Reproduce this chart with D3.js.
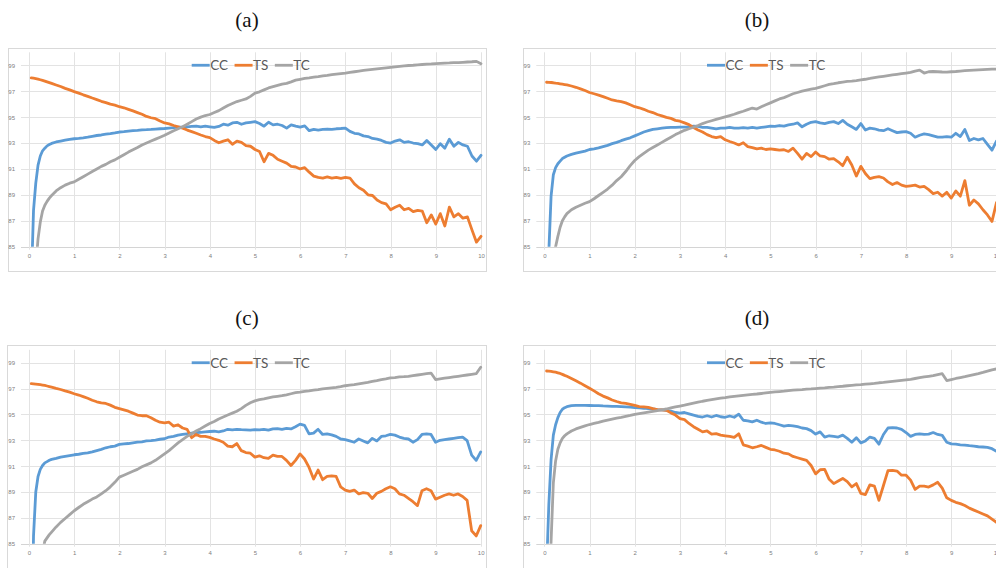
<!DOCTYPE html>
<html>
<head>
<meta charset="utf-8">
<script src="https://cdn.jsdelivr.net/npm/d3@7/dist/d3.min.js"></script>
<style>
  html, body { margin: 0; padding: 0; background: #ffffff; }
  svg { display: block; }
</style>
</head>
<body>
<svg id="chart" width="996" height="568"></svg>
<script>
// ---------------- DATA ----------------
const seriesNames = ["CC", "TS", "TC"];
const panelTitles = ["(a)", "(b)", "(c)", "(d)"];
const yTicks = [85, 87, 89, 91, 93, 95, 97, 99];
const xTicks = [0, 1, 2, 3, 4, 5, 6, 7, 8, 9, 10];

const xs = [
  0.05, 0.1, 0.15, 0.2, 0.25, 0.3, 0.35, 0.4, 0.45, 0.5,
  0.6, 0.7, 0.8, 0.9, 1.0, 1.1, 1.2, 1.3, 1.4, 1.5,
  1.6, 1.7, 1.8, 1.9, 2.0, 2.1, 2.2, 2.3, 2.4, 2.5,
  2.6, 2.7, 2.8, 2.9, 3.0, 3.1, 3.2, 3.3, 3.4, 3.5,
  3.6, 3.7, 3.8, 3.9, 4.0, 4.1, 4.2, 4.3, 4.4, 4.5,
  4.6, 4.7, 4.8, 4.9, 5.0, 5.1, 5.2, 5.3, 5.4, 5.5,
  5.6, 5.7, 5.8, 5.9, 6.0, 6.1, 6.2, 6.3, 6.4, 6.5,
  6.6, 6.7, 6.8, 6.9, 7.0, 7.1, 7.2, 7.3, 7.4, 7.5,
  7.6, 7.7, 7.8, 7.9, 8.0, 8.1, 8.2, 8.3, 8.4, 8.5,
  8.6, 8.7, 8.8, 8.9, 9.0, 9.1, 9.2, 9.3, 9.4, 9.5,
  9.6, 9.7, 9.8, 9.9, 10.0
];

// (a)
const aCC = [
  82.0, 87.8, 89.9, 91.3, 92.0, 92.4, 92.6, 92.78, 92.88, 92.97,
  93.08, 93.15, 93.22, 93.28, 93.33, 93.36, 93.4, 93.45, 93.52, 93.58,
  93.62, 93.68, 93.72, 93.78, 93.85, 93.88, 93.92, 93.95, 93.98, 94.02,
  94.03, 94.05, 94.08, 94.1, 94.12, 94.15, 94.18, 94.22, 94.22, 94.25,
  94.28, 94.3, 94.25, 94.3, 94.25, 94.2, 94.28, 94.45, 94.38, 94.55,
  94.6, 94.45, 94.55, 94.6, 94.65, 94.5, 94.3, 94.6, 94.4, 94.45,
  94.35, 94.15, 94.4, 94.3, 94.22, 94.32, 93.95, 94.05, 94.0, 94.05,
  94.08, 94.05, 94.1, 94.12, 94.15, 93.9, 93.75, 93.7, 93.55, 93.5,
  93.35, 93.3, 93.2, 93.05, 93.0, 93.15, 93.25, 93.05, 93.1, 93.0,
  92.95, 92.85, 93.2, 92.85, 92.5, 92.95, 92.6, 93.3, 92.75, 93.05,
  92.85, 92.75, 92.0, 91.6, 92.05
];
const aTS = [
  98.02, 98.0, 97.97, 97.93, 97.88, 97.83, 97.78, 97.72, 97.66, 97.6,
  97.48, 97.36, 97.22, 97.1, 96.97, 96.85, 96.72, 96.6, 96.47, 96.35,
  96.22, 96.12, 96.0, 95.92, 95.8, 95.72, 95.6, 95.48, 95.35, 95.22,
  95.05, 94.95, 94.88, 94.7, 94.55, 94.48, 94.35, 94.25, 94.15, 94.0,
  93.88, 93.75, 93.62, 93.5, 93.42, 93.2, 93.02, 93.15, 93.25, 92.9,
  93.15, 93.05, 92.8, 92.75, 92.5, 92.35, 91.55, 92.2, 92.05, 91.75,
  91.6, 91.45, 91.2, 91.15, 91.0, 91.1, 90.75, 90.45, 90.35, 90.3,
  90.38, 90.3, 90.35, 90.28, 90.35, 90.3, 89.85, 89.55, 89.35, 89.0,
  88.95, 88.6, 88.4, 88.3, 87.85, 88.05, 88.2, 87.85, 87.95, 87.7,
  87.8, 87.75, 86.85, 87.45, 86.75, 87.55, 86.6, 88.05, 87.3, 87.55,
  87.2, 87.3, 86.3, 85.35, 85.8
];
const aTC = [
  null, null, 83.5, 85.6, 86.9, 87.75, 88.2, 88.5, 88.75, 88.95,
  89.3, 89.55, 89.75, 89.9, 90.0, 90.2, 90.4, 90.6, 90.8, 91.0,
  91.2, 91.35, 91.55, 91.7, 91.9, 92.1, 92.3, 92.48, 92.65, 92.85,
  93.0, 93.15, 93.3, 93.45, 93.6, 93.78, 93.95, 94.1, 94.25, 94.45,
  94.65, 94.85, 95.0, 95.12, 95.2, 95.35, 95.5, 95.7, 95.9, 96.05,
  96.2, 96.3, 96.4, 96.6, 96.85, 96.95, 97.1, 97.25, 97.35, 97.45,
  97.55, 97.6, 97.72, 97.85, 97.92, 97.98, 98.02, 98.08, 98.12, 98.18,
  98.22, 98.28, 98.32, 98.36, 98.4, 98.45, 98.5, 98.55, 98.6, 98.64,
  98.68, 98.72, 98.76, 98.8, 98.84, 98.88, 98.92, 98.95, 98.98, 99.0,
  99.03, 99.06, 99.08, 99.1, 99.13, 99.15, 99.17, 99.18, 99.2, 99.21,
  99.23, 99.25, 99.27, 99.3, 99.12
];

// (b)
const bCC = [
  null, 84.6, 88.9, 90.55, 91.1, 91.4, 91.6, 91.8, 91.9, 92.0,
  92.12, 92.22, 92.3, 92.38, 92.5, 92.55, 92.62, 92.72, 92.82, 92.95,
  93.05, 93.18, 93.3, 93.4, 93.55, 93.7, 93.85, 93.95, 94.05, 94.1,
  94.15, 94.18, 94.2, 94.2, 94.22, 94.22, 94.25, 94.3, 94.28, 94.2,
  94.2, 94.15, 94.1, 94.15, 94.15, 94.2, 94.15, 94.15, 94.18, 94.15,
  94.2, 94.15, 94.2, 94.25, 94.3, 94.28, 94.35, 94.3, 94.4, 94.45,
  94.55, 94.25, 94.45, 94.6, 94.65, 94.55, 94.5, 94.6, 94.65, 94.5,
  94.75, 94.45, 94.25, 94.05, 94.5, 94.0, 94.15, 94.1, 94.0, 93.95,
  94.1, 93.95, 93.8, 93.85, 93.88, 93.75, 93.45, 93.6, 93.7, 93.65,
  93.55, 93.45, 93.45, 93.5, 93.45, 93.75, 93.5, 94.05, 93.2, 93.35,
  93.25, 93.35, 92.9, 92.45, 93.15
];
const bTS = [
  97.69, 97.68, 97.67, 97.65, 97.62, 97.6, 97.57, 97.54, 97.51, 97.48,
  97.4, 97.3, 97.18, 97.05, 96.9, 96.8, 96.7, 96.58, 96.45, 96.32,
  96.25, 96.2, 96.1, 95.95, 95.8, 95.72, 95.6, 95.45, 95.35, 95.2,
  95.1, 94.98, 94.9, 94.75, 94.68, 94.55, 94.42, 94.2, 94.0, 93.85,
  93.65, 93.5, 93.42, 93.5, 93.25, 93.12, 93.0, 92.85, 93.02, 92.72,
  92.65, 92.55, 92.6, 92.5, 92.55, 92.5, 92.45, 92.48, 92.35, 92.6,
  92.2, 91.75, 92.2, 91.95, 92.3, 92.0, 91.95, 91.75, 91.8, 91.55,
  91.25, 91.9, 91.3, 90.45, 91.2, 90.65, 90.25, 90.35, 90.4, 90.3,
  90.0, 89.8, 89.95, 89.75, 89.65, 89.7, 89.75, 89.6, 89.65, 89.4,
  89.1, 89.2, 88.9, 89.2, 88.75, 89.3, 88.9, 90.1, 88.2, 88.6,
  88.3, 87.85, 87.45, 86.95, 88.4
];
const bTC = [
  null, null, null, 83.8, 85.0, 85.8, 86.5, 87.0, 87.3, 87.55,
  87.85, 88.05, 88.2, 88.35, 88.48, 88.7, 88.95, 89.2, 89.45, 89.75,
  90.1, 90.4, 90.8, 91.25, 91.65, 91.95, 92.2, 92.45, 92.65, 92.85,
  93.05, 93.25, 93.45, 93.65, 93.82, 93.98, 94.1, 94.22, 94.35, 94.5,
  94.62, 94.72, 94.82, 94.92, 95.02, 95.12, 95.22, 95.35, 95.45, 95.58,
  95.7, 95.62, 95.8, 95.95, 96.1, 96.25, 96.4, 96.5, 96.65, 96.8,
  96.9, 97.0, 97.08, 97.15, 97.22, 97.32, 97.42, 97.52, 97.58, 97.65,
  97.7, 97.75, 97.78, 97.82, 97.87, 97.92, 97.98, 98.05, 98.1, 98.15,
  98.2, 98.25, 98.3, 98.35, 98.4, 98.45, 98.55, 98.62, 98.4, 98.5,
  98.52, 98.5, 98.48, 98.47, 98.5, 98.52, 98.55, 98.58, 98.6, 98.62,
  98.64, 98.66, 98.68, 98.7, 98.7
];

// (c)
const cCC = [
  75.0, 85.6, 89.0, 90.2, 90.75, 91.05, 91.25, 91.35, 91.45, 91.52,
  91.6, 91.7, 91.76, 91.82, 91.88, 91.92, 91.98, 92.02, 92.1, 92.2,
  92.3, 92.42, 92.5, 92.55, 92.68, 92.72, 92.75, 92.8, 92.85, 92.88,
  92.95, 92.98, 93.02, 93.08, 93.12, 93.25, 93.3, 93.4, 93.45, 93.5,
  93.55, 93.6, 93.62, 93.65, 93.68, 93.7, 93.65, 93.72, 93.85, 93.8,
  93.85, 93.82, 93.8, 93.78, 93.82, 93.8, 93.85, 93.78, 93.88, 93.9,
  93.85, 93.92, 93.88, 94.05, 94.25, 94.15, 93.5, 93.55, 93.85, 93.45,
  93.5, 93.42, 93.3, 93.1, 93.05, 92.95, 92.85, 93.1, 92.95, 92.8,
  93.15, 92.95, 93.3, 93.35, 93.45, 93.4, 93.25, 93.15, 93.1, 92.85,
  93.05, 93.45, 93.5, 93.45, 92.85, 93.0, 93.05, 93.1, 93.15, 93.2,
  93.25, 92.98, 91.85, 91.45, 92.1
];
const cTS = [
  97.38, 97.37, 97.35, 97.33, 97.3, 97.27, 97.24, 97.2, 97.16, 97.12,
  97.02, 96.93, 96.82, 96.72, 96.6, 96.5, 96.38, 96.25, 96.1, 95.98,
  95.9, 95.85, 95.72, 95.55, 95.45, 95.35, 95.25, 95.1, 94.95, 94.9,
  94.9, 94.75, 94.55, 94.4, 94.35, 94.4, 94.1, 94.2, 93.95, 93.85,
  93.2, 93.45, 93.3, 93.3, 93.22, 93.1, 93.0, 92.85, 92.55, 92.5,
  92.75, 92.2, 92.05, 92.0, 91.7, 91.8, 91.65, 91.6, 91.85, 91.75,
  91.75, 91.45, 91.05, 91.45, 91.95, 91.55, 90.9, 90.0, 90.7, 89.95,
  90.2, 90.25, 90.2, 89.4, 89.15, 89.05, 89.15, 88.85, 88.95, 88.9,
  88.5, 88.9, 89.05, 89.25, 89.4, 89.25, 88.85, 88.75, 88.5, 88.25,
  87.95, 89.1, 89.25, 89.1, 88.45, 88.6, 88.75, 88.85, 88.75, 88.85,
  88.65, 88.35, 86.0, 85.6, 86.4
];
const cTC = [
  null, null, null, null, null, 84.3, 85.2, 85.45, 85.7, 85.9,
  86.3, 86.65, 86.95, 87.25, 87.55, 87.8, 88.05, 88.25, 88.45, 88.62,
  88.85, 89.1, 89.4, 89.75, 90.15, 90.3, 90.45, 90.6, 90.75, 90.95,
  91.1, 91.25, 91.45, 91.7, 91.95, 92.2, 92.5, 92.8, 93.05, 93.3,
  93.5, 93.72, 93.9, 94.1, 94.3, 94.45, 94.65, 94.8, 94.95, 95.1,
  95.25, 95.45, 95.7, 95.9, 96.05, 96.15, 96.2, 96.28, 96.35, 96.4,
  96.45, 96.52, 96.6, 96.68, 96.72, 96.78, 96.82, 96.88, 96.92, 96.98,
  97.02, 97.06, 97.1, 97.15, 97.22, 97.26, 97.3, 97.36, 97.42, 97.48,
  97.55, 97.62, 97.7, 97.75, 97.82, 97.85, 97.9, 97.92, 97.95, 98.0,
  98.05, 98.1, 98.15, 98.2, 97.7, 97.75, 97.8, 97.85, 97.9, 97.95,
  98.0, 98.05, 98.1, 98.15, 98.65
];

// (d)
const dCC = [
  83.0, 88.0, 91.5, 93.4, 94.2, 94.75, 95.15, 95.4, 95.52, 95.6,
  95.68, 95.7, 95.7, 95.7, 95.69, 95.68, 95.68, 95.66, 95.65, 95.63,
  95.62, 95.6, 95.58, 95.56, 95.53, 95.5, 95.48, 95.45, 95.42, 95.38,
  95.35, 95.32, 95.25, 95.15, 95.1, 95.15, 95.05, 94.95, 94.85, 94.8,
  94.9, 94.8, 94.92, 94.82, 94.78, 94.88, 94.78, 95.02, 94.55, 94.5,
  94.42, 94.55, 94.4, 94.3, 94.35, 94.3, 94.2, 94.1, 94.15, 94.12,
  94.05, 93.95, 93.9, 93.75, 93.48, 93.65, 93.25, 93.35, 93.3, 93.25,
  93.4, 93.15, 92.85, 93.2, 92.8, 92.95, 93.25, 93.15, 92.7, 93.45,
  93.95, 93.98, 93.95, 93.85, 93.6, 93.3, 93.45, 93.5, 93.45, 93.48,
  93.6, 93.45, 93.38, 92.85, 92.72, 92.7, 92.65, 92.62, 92.58, 92.55,
  92.5, 92.48, 92.45, 92.35, 92.15
];
const dTS = [
  98.36, 98.35, 98.33, 98.3, 98.27, 98.22, 98.17, 98.1, 98.02, 97.95,
  97.78, 97.6, 97.42, 97.22, 97.02, 96.82, 96.6, 96.42, 96.28, 96.12,
  96.0, 95.9, 95.85, 95.78, 95.7, 95.6, 95.58, 95.55, 95.45, 95.38,
  95.35, 95.32, 95.12, 94.95, 94.67, 94.6, 94.3, 94.05, 93.85, 93.65,
  93.72, 93.48, 93.52, 93.4, 93.35, 93.3, 93.22, 93.5, 92.65, 92.55,
  92.42, 92.5, 92.6, 92.45, 92.3, 92.25, 92.15, 92.0, 91.95, 91.75,
  91.65, 91.55, 91.45, 91.05, 90.4, 90.72, 90.75, 89.98, 89.65, 89.85,
  90.05, 89.8, 89.4, 89.65, 88.9, 88.8, 89.55, 89.45, 88.35, 89.5,
  90.65, 90.68, 90.62, 90.3, 90.3, 89.92, 89.2, 89.45, 89.45, 89.38,
  89.55, 89.75, 89.3, 88.55, 88.35, 88.2, 88.1, 87.95, 87.75, 87.6,
  87.45, 87.3, 87.15, 86.9, 86.65
];
const dTC = [
  null, 80.5, 85.2, 89.7, 91.4, 92.3, 92.8, 93.15, 93.35, 93.5,
  93.72, 93.88, 94.0, 94.12, 94.22, 94.3, 94.38, 94.48, 94.56, 94.64,
  94.72, 94.78, 94.85, 94.92, 95.0, 95.06, 95.12, 95.18, 95.24, 95.3,
  95.36, 95.42, 95.5, 95.58, 95.65, 95.72, 95.8, 95.88, 95.95, 96.02,
  96.08, 96.14, 96.2, 96.26, 96.3, 96.35, 96.4, 96.44, 96.48, 96.52,
  96.55, 96.58, 96.62, 96.66, 96.7, 96.74, 96.77, 96.8, 96.84, 96.88,
  96.9, 96.92, 96.95, 96.97, 97.0, 97.03, 97.06, 97.1, 97.12, 97.15,
  97.18, 97.22, 97.25, 97.28, 97.3, 97.34, 97.37, 97.4, 97.45, 97.48,
  97.52, 97.56, 97.6, 97.64, 97.68, 97.72, 97.78, 97.84, 97.9, 97.95,
  98.0, 98.08, 98.15, 97.62, 97.7, 97.78, 97.85, 97.92, 98.0, 98.08,
  98.16, 98.25, 98.35, 98.45, 98.52
];

const panelSeries = [
  [aCC, aTS, aTC],
  [bCC, bTS, bTC],
  [cCC, cTS, cTC],
  [dCC, dTS, dTC]
];

// ---------------- LAYOUT / STYLE ----------------
const colors = ["#5B9BD5", "#ED7D31", "#A5A5A5"];
const layouts = [
  { tx: 247, ty: 27,  box: [8.5, 48.5, 478, 223],   px: [29, 481],    py: [246.7, 52.3] },
  { tx: 757, ty: 27,  box: [523.5, 48.5, 480, 223], px: [544.3, 996.5], py: [246.7, 52.3] },
  { tx: 247, ty: 325, box: [7.5, 345.5, 479, 230],  px: [29, 480.7],  py: [543.7, 349.8] },
  { tx: 757, ty: 325, box: [523.5, 345.5, 480, 230], px: [544.3, 996.5], py: [543.7, 349.8] }
];

const svg = d3.select("#chart");
const tickFont = "'Liberation Sans', Arial, sans-serif";
const legendFont = "Lato, 'Open Sans', sans-serif";

layouts.forEach((L, i) => {
  const g = svg.append("g");
  const x = d3.scaleLinear().domain([0, 10]).range(L.px);
  const y = d3.scaleLinear().domain([85, 100]).range(L.py);

  // Title
  svg.append("text")
    .attr("x", L.tx).attr("y", L.ty)
    .attr("text-anchor", "middle")
    .attr("font-family", "'Liberation Serif', 'Times New Roman', serif")
    .attr("font-size", 21)
    .attr("fill", "#111")
    .text(panelTitles[i]);

  // Chart area box
  g.append("rect")
    .attr("x", L.box[0]).attr("y", L.box[1])
    .attr("width", L.box[2]).attr("height", L.box[3])
    .attr("fill", "#fff").attr("stroke", "#d9d9d9").attr("stroke-width", 1);

  // Horizontal gridlines
  g.append("g").selectAll("line").data(yTicks).join("line")
    .attr("x1", x(0) - 8).attr("x2", x(10))
    .attr("y1", d => Math.round(y(d)) + 0.5).attr("y2", d => Math.round(y(d)) + 0.5)
    .attr("stroke", d => d === 85 ? "#d4d4d4" : "#e3e3e3").attr("stroke-width", 1);

  // Vertical gridlines
  g.append("g").selectAll("line").data(xTicks).join("line")
    .attr("x1", d => Math.round(x(d)) + 0.5).attr("x2", d => Math.round(x(d)) + 0.5)
    .attr("y1", y(100)).attr("y2", y(85) + 3)
    .attr("stroke", "#e3e3e3").attr("stroke-width", 1);

  // Y axis labels
  const yAxis = d3.axisLeft(y).tickValues(yTicks).tickSize(0).tickPadding(14);
  const ya = g.append("g").attr("transform", `translate(${x(0)},0)`).call(yAxis);
  ya.select(".domain").remove();
  ya.selectAll("text").attr("font-size", 6).attr("font-family", tickFont).attr("fill", "#808080");

  // X axis labels
  const xAxis = d3.axisBottom(x).tickValues(xTicks).tickSize(0).tickPadding(7);
  const xa = g.append("g").attr("transform", `translate(0,${y(85)})`).call(xAxis);
  xa.select(".domain").remove();
  xa.selectAll("text").attr("font-size", 6).attr("font-family", tickFont).attr("fill", "#808080");

  // Clip
  const clipId = "clip" + i;
  svg.append("clipPath").attr("id", clipId)
    .append("rect")
    .attr("x", x(0) - 4).attr("y", y(100))
    .attr("width", x(10) - x(0) + 8).attr("height", y(85) - y(100));

  // Lines
  const line = d3.line()
    .defined(d => d[1] != null)
    .x(d => x(d[0]))
    .y(d => y(d[1]))
    .curve(d3.curveLinear);

  const lg = g.append("g").attr("clip-path", `url(#${clipId})`);
  panelSeries[i].forEach((vals, k) => {
    const pts = xs.map((xv, j) => [xv, vals[j]]);
    lg.append("path")
      .attr("d", line(pts))
      .attr("fill", "none")
      .attr("stroke", colors[k])
      .attr("stroke-width", 2.8)
      .attr("stroke-linejoin", "round")
      .attr("stroke-linecap", "round");
  });

  // Legend
  const legY = y(99);
  let cx = x(0) + 162.7;
  const leg = g.append("g");
  seriesNames.forEach((name, k) => {
    leg.append("line")
      .attr("x1", cx).attr("x2", cx + 18)
      .attr("y1", legY).attr("y2", legY)
      .attr("stroke", colors[k]).attr("stroke-width", 2.8);
    const t = leg.append("text")
      .attr("x", cx + 18.5).attr("y", legY)
      .attr("dy", "0.36em")
      .attr("font-family", legendFont)
      .attr("font-size", 13.5)
      .attr("fill", "#595959")
      .text(name);
    cx = cx + 18.5 + t.node().getComputedTextLength() + 6.5;
  });
});
</script>
</body>
</html>
